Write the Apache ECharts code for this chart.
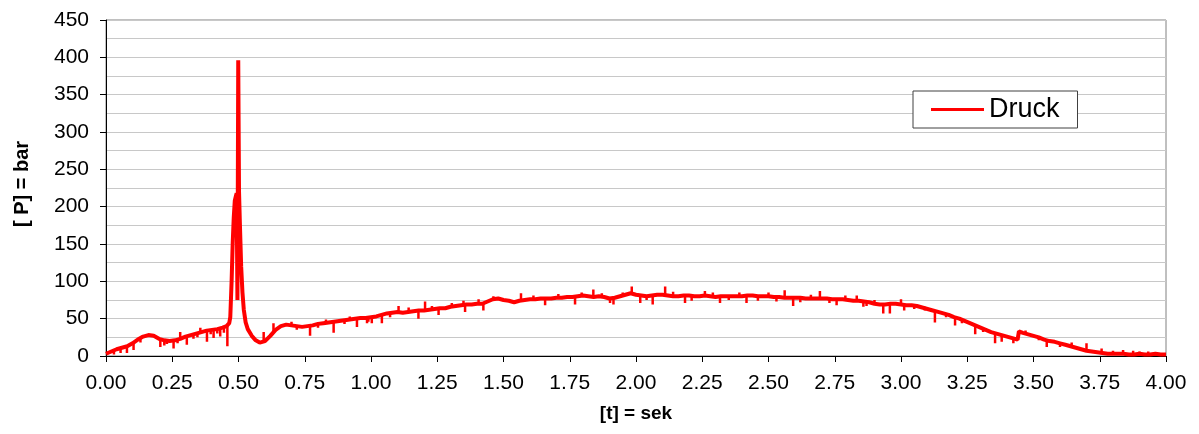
<!DOCTYPE html>
<html>
<head>
<meta charset="utf-8">
<script src="https://cdn.jsdelivr.net/npm/echarts@6/dist/echarts.min.js"></script>
<style>
html,body{margin:0;padding:0;background:#fff;}
#chart{width:1199px;height:434px;}
</style>
</head>
<body>
<div id="chart"></div>
<script>
// Druck trace: time [s] and pressure [bar]
const time = [
  0,0.02,0.04,0.06,0.08,0.1,0.12,0.14,0.16,0.18,
  0.2,0.22,0.24,0.26,0.28,0.3,0.32,0.34,0.36,0.38,
  0.4,0.42,0.44,0.455,0.465,0.469,0.474,0.478,0.482,0.486,
  0.49,0.493,0.496,0.499,0.502,0.505,0.51,0.515,0.52,0.527,
  0.535,0.55,0.565,0.58,
  0.6,0.62,0.64,0.66,0.68,0.7,0.72,0.74,0.76,0.78,
  0.8,0.82,0.84,0.86,0.88,0.9,0.92,0.94,0.96,0.98,
  1.0,1.02,1.04,1.06,1.08,1.1,1.12,1.14,1.16,1.18,
  1.2,1.22,1.24,1.26,1.28,1.3,1.32,1.34,1.36,1.38,
  1.4,1.42,1.44,1.46,1.48,1.5,1.52,1.54,1.56,1.58,
  1.6,1.62,1.64,1.66,1.68,1.7,1.72,1.74,1.76,1.78,
  1.8,1.82,1.84,1.86,1.88,1.9,1.92,1.94,1.96,1.98,
  2.0,2.02,2.04,2.06,2.08,2.1,2.12,2.14,2.16,2.18,
  2.2,2.22,2.24,2.26,2.28,2.3,2.32,2.34,2.36,2.38,
  2.4,2.42,2.44,2.46,2.48,2.5,2.52,2.54,2.56,2.58,
  2.6,2.62,2.64,2.66,2.68,2.7,2.72,2.74,2.76,2.78,
  2.8,2.82,2.84,2.86,2.88,2.9,2.92,2.94,2.96,2.98,
  3.0,3.02,3.04,3.06,3.08,3.1,3.12,3.14,3.16,3.18,
  3.2,3.22,3.24,3.26,3.28,3.3,3.32,3.34,3.36,3.38,
  3.4,3.42,3.44,3.445,3.46,3.48,
  3.5,3.52,3.54,3.56,3.58,3.6,3.62,3.64,3.66,3.68,
  3.7,3.72,3.74,3.76,3.78,3.8,3.82,3.84,3.86,3.88,
  3.9,3.92,3.94,3.96,3.98,4.0
];
const pressure = [
  3,6,9,11,13,17,22,26,28,27,
  23,21,20,21,23,26,28,30,32,34,
  35,36,38,40,44,52,100,150,185,208,
  214,218,75,396,220,180,120,85,62,45,
  36,27,21,18,
  20,27,35,40,42,41,40,39,40,41,
  43,44,45,46,47,48,49,50,51,51,
  52,53,55,57,58,59,58,59,60,61,
  61,62,63,64,64,66,67,68,69,69,
  70,70,73,76,77,75,74,72,74,75,
  76,76,77,77,77,78,78,79,79,80,
  81,80,79,80,79,77,78,80,82,84,
  82,81,80,81,82,82,81,80,80,81,
  81,80,80,81,80,79,80,80,80,80,
  80,81,81,80,80,80,79,79,78,78,
  78,78,77,77,77,77,77,76,76,76,
  75,74,74,73,72,70,69,69,70,70,
  69,68,68,67,65,63,61,59,57,55,
  52,50,47,44,41,38,35,32,30,28,
  26,24,22,33,31,29,
  27,25,22,20,19,17,15,13,11,9,
  7,6,5,4,3,3,3,3,2,2,
  3,2,2,3,2,2
];
// short noise ticks in the trace: time, value on the trace, value at tick end
const spikeTime = [0.079,0.104,0.205,0.23,0.255,0.28,0.305,0.356,0.381,0.406,0.431,0.458,
  0.595,0.632,0.77,0.859,0.947,0.985,1.003,1.041,1.104,1.179,1.204,1.255,1.355,1.406,1.424,
  1.566,1.657,1.77,1.839,1.915,1.984,2.016,2.063,2.11,2.185,2.26,2.317,2.417,2.561,2.593,
  2.694,2.757,2.833,2.858,2.933,2.958,3.0,3.012,3.128,3.204,3.28,3.355,3.38,3.424,3.55,
  3.644,3.7,3.757,3.838,3.876,3.933,
  0.03,0.055,0.13,0.22,0.27,0.33,0.345,0.395,0.42,0.445,0.7,0.72,0.8,0.83,0.9,0.92,
  0.99,1.072,1.142,1.23,1.305,1.349,1.462,1.613,1.707,1.795,1.871,1.902,1.95,2.04,
  2.14,2.21,2.29,2.35,2.39,2.46,2.5,2.53,2.62,2.66,2.73,2.79,2.87,2.9,3.05,3.09,3.17,
  3.23,3.31,3.47,3.52,3.6,3.68,3.8,3.9,3.96];
const spikeBase = [13,18,23,20,20,23,27,32,34,35,37,40,
  19,31,40,46,51,51,52,55,59,61,61,64,69,70,70,
  74,77,79,80,78,84,81,81,82,80,80,80,81,78,78,
  77,76,74,73,69,69,69,68,61,52,41,30,28,24,22,
  13,7,4,3,3,3,
  8,10,24,22,23,29,31,35,36,38,41,40,43,44,48,49,
  51,57,59,62,66,68,75,76,78,81,79,77,79,81,
  80,80,80,80,80,80,80,79,78,77,77,76,73,70,68,66,57,
  49,37,29,25,17,9,3,3,2];
const spikeTip = [4,8,12,16,10,32,15,38,19,24,26,13,
  32,44,27,31,39,44,44,44,67,50,73,55,59,76,61,
  84,68,69,89,69,93,71,69,93,71,87,71,71,88,67,
  87,68,81,66,57,57,76,61,45,41,29,17,19,17,12,
  18,17,10,8,7,6,
  2,4,18,14,17,23,25,29,30,31,46,35,38,49,43,53,
  46,52,65,67,71,74,80,81,83,85,84,71,85,75,
  86,74,85,75,85,74,85,73,72,82,71,81,67,75,63,61,52,
  44,32,34,21,12,7,7,6];
const xTicks = ['0.00','0.25','0.50','0.75','1.00','1.25','1.50','1.75','2.00','2.25','2.50','2.75','3.00','3.25','3.50','3.75','4.00'];

const mainData = time.map((t, i) => [t, pressure[i]]);
const spikeData = [];
spikeTime.forEach((t, i) => {
  spikeData.push([t, spikeBase[i]], [t, spikeTip[i]], [t, '-']);
});

const FONT = 'Liberation Sans, Arial, sans-serif';
const chart = echarts.init(document.getElementById('chart'));
chart.setOption({
  animation: false,
  backgroundColor: '#ffffff',
  grid: {
    left: 106, right: 33, top: 20, bottom: 78,
    show: true, borderColor: '#808080', borderWidth: 1
  },
  legend: {
    data: [{ name: 'Druck', icon: 'rect' }],
    left: 913, top: 91,
    itemWidth: 53, itemHeight: 3,
    padding: [5, 18, 5, 18],
    backgroundColor: '#ffffff',
    borderColor: '#404040', borderWidth: 1,
    textStyle: { fontFamily: FONT, fontSize: 27, color: '#000' }
  },
  graphic: [{
    type: 'text',
    x: 22, y: 184, rotation: Math.PI / 2,
    style: {
      text: '[ P] = bar', font: 'bold 20px ' + FONT, fill: '#000',
      align: 'center', verticalAlign: 'middle'
    }
  }],
  xAxis: {
    type: 'value', min: 0, max: 4, interval: 0.25,
    name: '[t] = sek', nameLocation: 'middle', nameGap: 48,
    nameTextStyle: { fontFamily: FONT, fontSize: 19, fontWeight: 'bold', color: '#000' },
    axisLine: { show: true, lineStyle: { color: '#000', width: 1 } },
    axisTick: { show: true, length: 6, lineStyle: { color: '#000' } },
    axisLabel: {
      fontFamily: FONT, fontSize: 21, color: '#000', margin: 17,
      formatter: v => xTicks[Math.round(v / 0.25)]
    },
    splitLine: { show: false }
  },
  yAxis: {
    type: 'value', min: 0, max: 450, interval: 50,
    axisLine: { show: true, lineStyle: { color: '#000', width: 1 } },
    axisTick: { show: true, length: 6, lineStyle: { color: '#000' } },
    axisLabel: { fontFamily: FONT, fontSize: 21, color: '#000', margin: 17 },
    splitLine: { show: true, lineStyle: { color: '#c8c8c8', width: 1 } },
    minorTick: { show: false, splitNumber: 2 },
    minorSplitLine: { show: true, lineStyle: { color: '#c8c8c8', width: 1 } }
  },
  series: [
    {
      name: 'Druck', type: 'line', data: mainData,
      showSymbol: false, symbol: 'none',
      lineStyle: { color: '#ff0000', width: 4 },
      itemStyle: { color: '#ff0000' },
      z: 3
    },
    {
      name: 'ticks', type: 'line', data: spikeData,
      showSymbol: false, symbol: 'none', connectNulls: false,
      lineStyle: { color: '#ff0000', width: 2.5 },
      z: 3
    }
  ]
});
</script>
</body>
</html>
